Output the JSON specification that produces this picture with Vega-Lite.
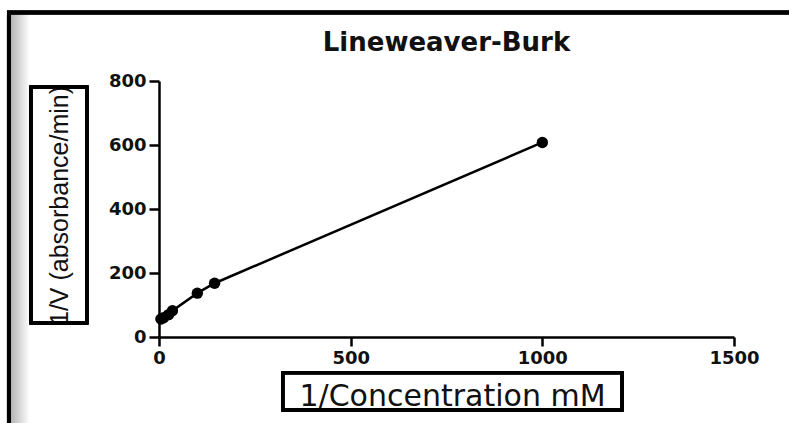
{
  "$schema": "https://vega.github.io/schema/vega-lite/v6.json",
  "width": 575,
  "height": 256,
  "autosize": {"type": "none"},
  "padding": {"left": 159, "top": 81, "right": 55, "bottom": 86},
  "background": "white",
  "config": {"view": {"stroke": null}},
  "title": {
    "text": "Lineweaver-Burk",
    "font": "DejaVu Sans",
    "fontSize": 26,
    "fontWeight": "bold",
    "color": "#111111",
    "anchor": "middle",
    "frame": "group",
    "baseline": "bottom",
    "offset": -71
  },
  "data": {
    "values": [
      {"inv_s": 5, "inv_v": 56},
      {"inv_s": 12, "inv_v": 60},
      {"inv_s": 25, "inv_v": 70},
      {"inv_s": 35, "inv_v": 82},
      {"inv_s": 100, "inv_v": 137},
      {"inv_s": 145, "inv_v": 168},
      {"inv_s": 1000, "inv_v": 608}
    ]
  },
  "layer": [
    {
      "mark": {"type": "rect", "stroke": null, "clip": false,
        "fill": {"gradient": "linear", "x1": 0, "x2": 1, "y1": 0, "y2": 0,
          "stops": [{"offset": 0, "color": "#b0b0b0"}, {"offset": 1, "color": "#ffffff"}]}},
      "encoding": {
        "x": {"datum": -389, "type": "quantitative", "scale": {"domain": [0, 1500], "nice": false}},
        "x2": {"datum": -337},
        "y": {"datum": 1010, "type": "quantitative", "scale": {"domain": [0, 800], "nice": false}},
        "y2": {"datum": -1000}
      }
    },
    {
      "mark": {"type": "rect", "fill": null, "stroke": "black", "strokeWidth": 3.5, "clip": false},
      "encoding": {
        "x": {"datum": -392, "type": "quantitative"},
        "x2": {"datum": 3000},
        "y": {"datum": 1014, "type": "quantitative"},
        "y2": {"datum": -1000}
      }
    },
    {
      "mark": {"type": "rect", "fill": null, "stroke": "black", "strokeWidth": 3, "clip": false},
      "encoding": {
        "x": {"datum": -334, "type": "quantitative"},
        "x2": {"datum": -188},
        "y": {"datum": 781, "type": "quantitative"},
        "y2": {"datum": 44}
      }
    },
    {
      "mark": {"type": "rect", "fill": null, "stroke": "black", "strokeWidth": 3, "clip": false},
      "encoding": {
        "x": {"datum": 323, "type": "quantitative"},
        "x2": {"datum": 1208},
        "y": {"datum": -112, "type": "quantitative"},
        "y2": {"datum": -228}
      }
    },
    {
      "mark": {"type": "line", "color": "black", "strokeWidth": 2.5},
      "encoding": {
        "x": {
          "field": "inv_s",
          "type": "quantitative",
          "scale": {"domain": [0, 1500], "nice": false},
          "axis": {
            "title": "1/Concentration mM",
            "values": [0, 500, 1000, 1500],
            "format": "d",
            "grid": false,
            "domainColor": "black",
            "domainWidth": 2.5,
            "tickColor": "black",
            "tickWidth": 2.5,
            "tickSize": 9,
            "labelFont": "DejaVu Sans",
            "labelFontSize": 18,
            "labelFontWeight": "bold",
            "labelColor": "#111111",
            "labelPadding": 3,
            "labelFlush": false,
            "titleFont": "DejaVu Sans",
            "titleFontSize": 30,
            "titleFontWeight": "normal",
            "titleColor": "#111111",
            "titleX": 293,
            "titleY": 68,
            "titleBaseline": "alphabetic",
            "titleAlign": "center"
          }
        },
        "y": {
          "field": "inv_v",
          "type": "quantitative",
          "scale": {"domain": [0, 800], "nice": false},
          "axis": {
            "title": "1/V (absorbance/min)",
            "values": [0, 200, 400, 600, 800],
            "format": "d",
            "grid": false,
            "domainColor": "black",
            "domainWidth": 2.5,
            "tickColor": "black",
            "tickWidth": 2.5,
            "tickSize": 10,
            "labelFont": "DejaVu Sans",
            "labelFontSize": 18,
            "labelFontWeight": "bold",
            "labelColor": "#111111",
            "labelPadding": 3,
            "labelFlush": false,
            "titleFont": "Liberation Sans",
            "titleFontSize": 25,
            "titleFontWeight": "normal",
            "titleColor": "#111111",
            "titleAngle": -90,
            "titleX": -100,
            "titleY": 124,
            "titleBaseline": "middle",
            "titleAlign": "center"
          }
        }
      }
    },
    {
      "mark": {"type": "point", "filled": true, "color": "black", "size": 130, "opacity": 1},
      "encoding": {
        "x": {"field": "inv_s", "type": "quantitative"},
        "y": {"field": "inv_v", "type": "quantitative"}
      }
    }
  ]
}
